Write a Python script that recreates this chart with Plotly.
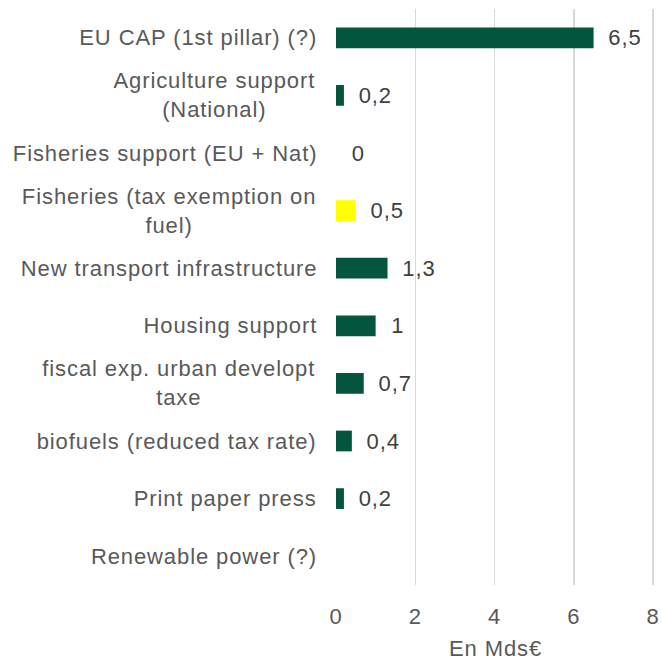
import plotly.graph_objects as go

categories = [
    "EU CAP (1st pillar) (?)",
    "Agriculture support<br>(National)",
    "Fisheries support (EU + Nat)",
    "Fisheries (tax exemption on<br>fuel)",
    "New transport infrastructure",
    "Housing support",
    "fiscal exp. urban developt<br>taxe",
    "biofuels (reduced tax rate)",
    "Print paper press",
    "Renewable power (?)",
]
values = [6.5, 0.2, 0, 0.5, 1.3, 1.0, 0.7, 0.4, 0.2, None]
colors = ["#03553E", "#03553E", "#03553E", "#FFFF00", "#03553E",
          "#03553E", "#03553E", "#03553E", "#03553E", "#03553E"]
x_ticks = [0, 2, 4, 6, 8]

FONT = "Liberation Sans, Arial, sans-serif"
SPACING = 0.9  # px letter spacing applied via CSS

def fmt(v):
    if v is None:
        return ""
    return "\u00a0\u00a0" + ("%g" % v).replace(".", ",")

ids = list(range(len(categories)))

fig = go.Figure()
fig.add_trace(go.Bar(
    y=ids, x=[v if v is not None else 0 for v in values], orientation="h",
    marker=dict(color=colors, line=dict(width=0)),
    text=[fmt(v) for v in values], textposition="outside",
    constraintext="none",
    textfont=dict(family=FONT, size=22, color="#404040"),
    cliponaxis=False, hoverinfo="skip",
))

for i, c in zip(ids, categories):
    lines = c.split("<br>")
    if len(lines) > 1:
        align = "center"
        shift = -18 - SPACING / 2 * max(len(l) for l in lines)
    else:
        align = "right"
        shift = -17
    fig.add_annotation(
        x=0, xref="paper", y=i, yref="y", text=c, showarrow=False,
        xanchor="right", align=align, xshift=shift,
        font=dict(family=FONT, size=22, color="#595959"),
    )

fig.update_layout(
    width=663, height=661,
    margin=dict(l=336, r=8, t=9, b=76, autoexpand=False),
    paper_bgcolor="white", plot_bgcolor="white",
    showlegend=False, bargap=0.64,
    font=dict(family=FONT, size=22, color="#595959"),
)
fig.update_xaxes(
    range=[0, 8.05], tickvals=x_ticks, ticktext=[str(t) for t in x_ticks],
    showgrid=True, gridcolor="#D9D9D9", gridwidth=1.5, zeroline=False,
    showline=False, ticks="outside", ticklen=12, tickcolor="rgba(0,0,0,0)",
    automargin=False,
    tickfont=dict(family=FONT, size=22, color="#595959"),
    title=dict(text="En Mds€", font=dict(family=FONT, size=22, color="#595959"), standoff=20),
)
fig.update_yaxes(
    range=[len(categories) - 0.5, -0.5], showticklabels=False, automargin=False,
    showgrid=False, zeroline=False, showline=False,
)

post = """
document.body.style.margin='0';
var s=document.createElement('style');
s.innerHTML='.main-svg text{letter-spacing:%spx !important;}';
document.head.appendChild(s);
""" % SPACING

fig.write_html("out.html", config={"displayModeBar": False, "staticPlot": True},
               post_script=post)
